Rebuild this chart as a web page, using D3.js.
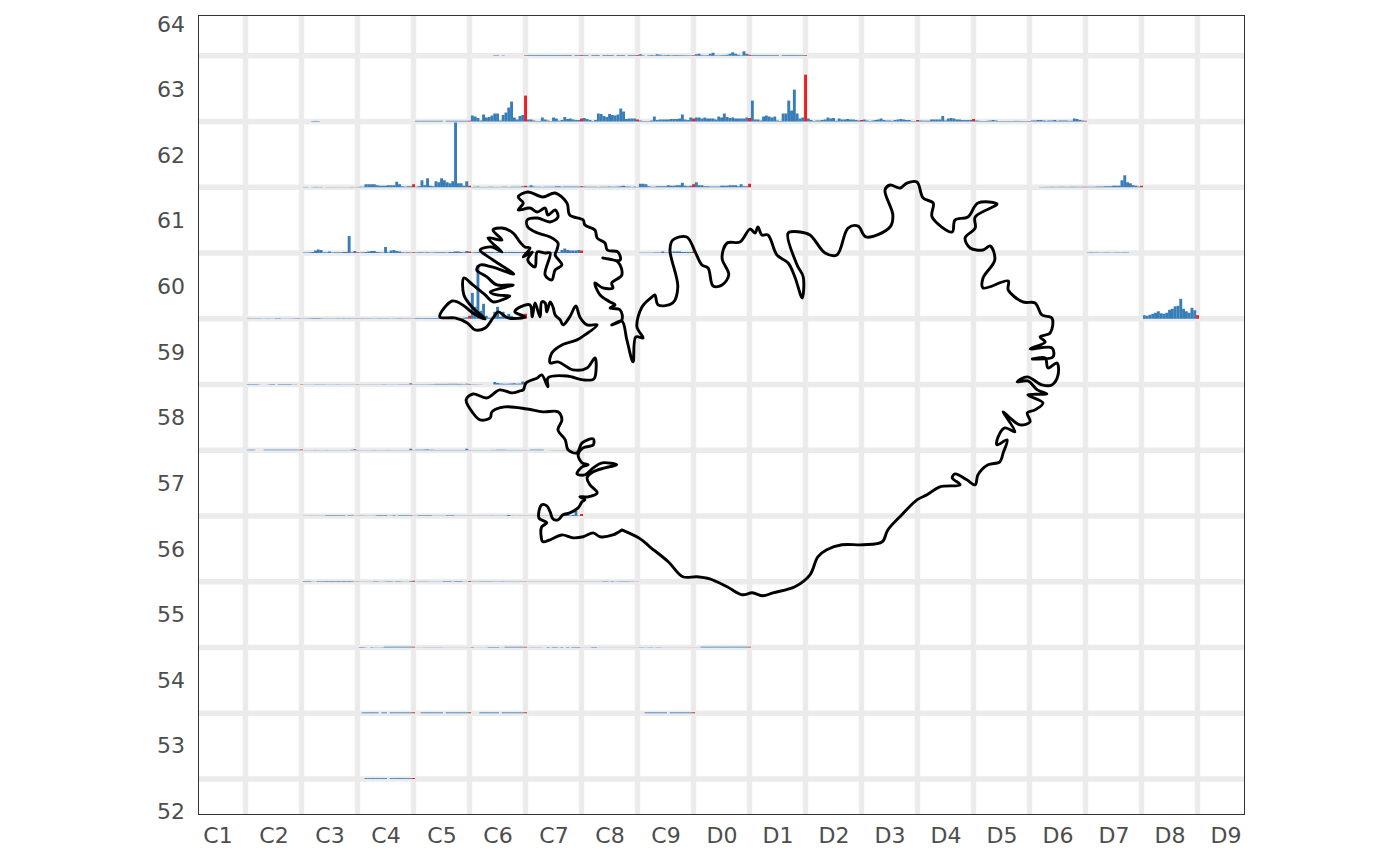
<!DOCTYPE html>
<html><head><meta charset="utf-8">
<script src="https://cdn.jsdelivr.net/npm/d3@7"></script>
<style>html,body{margin:0;padding:0;background:#fff}svg{display:block}text{font-family:"DejaVu Sans",sans-serif}</style>
</head><body><div id="c"></div><script>
const colLabels=["C1","C2","C3","C4","C5","C6","C7","C8","C9","D0","D1","D2","D3","D4","D5","D6","D7","D8","D9"];
const rowLabels=[52,53,54,55,56,57,58,59,60,61,62,63,64];
const periods=d3.range(20);
const row64=[
["C6",[0,0,0,0,0,0,0,0,.5,.5,0,.4,0,0,0,0,0,0,0,.5]],
["C7",[.7,.7,.7,.7,.7,.7,.7,.7,.7,.7,.7,.7,.7,.7,.7,.7,0,.7,.7,.8]],
["C8",[.7,.7,0,.7,.7,.7,0,.7,.7,.7,.7,0,.7,.7,.7,0,.7,.7,.7,.8]],
["C9",[1.5,.5,0,.5,.7,.5,1.5,1,.5,.6,.8,.5,.7,.7,.6,.6,.5,.5,.5,.6]],
["D0",[1.5,2,.6,.5,.6,2,3,.5,.5,.6,.7,1,2,3.5,2,1,.5,4.5,2,1]],
["D1",[.7,.7,.7,.7,.7,.7,.7,.7,.7,.7,0,.7,.7,.7,.7,.7,.7,.7,.7,.7]]];
const row63=[
["C3",[0,0,0,.5,.6,.5,0,0,0,0,0,0,0,0,0,0,0,0,0,0]],
["C5",[.7,.7,.7,.7,.7,.7,.7,.7,.7,.7,0,.7,.7,.7,.7,.7,.7,.7,.7,.8]],
["C6",[6,5,3.5,1,7,4,4.5,6,8,8,1,6.5,9,14,20,4,2,5.5,6.5,26]],
["C7",[2,2,1,.5,.5,4,2,1,.5,4,3,.8,1.5,4.5,2.5,3,2,1.5,1.5,3]],
["C8",[3.5,2.5,1.5,.5,1.5,8,7.5,5.5,4.5,7.5,6.5,6,7,13,10,2.5,3,3,3,2]],
["C9",[1,.5,.5,.5,1,5,1.5,2,2,2,2,2.5,2.5,2.5,3,7,2,1.5,4,3]],
["D0",[4,4,3,4,3,3,3,2,5,4,8,4.5,3.5,4,3,3,3,3,4,3.5]],
["D1",[21,2,2,1,5,6,5,4,5,1,.5,8,8,21,11,32,8,3,4,47]],
["D2",[3,1.5,.5,1,1,1.5,2,4,3,3.5,.7,3,2,2,2.5,2,2,1.5,1,1.5]],
["D3",[2,1,.5,1,1.5,2,3,1.5,1,1,.7,1.5,2,2.5,2,1.5,1.5,.5,.5,1.5]],
["D4",[1,.8,.8,.8,2,2,2,2,5.5,1,3,3.5,3,2,2,1.5,1.5,1.5,1.5,2.5]],
["D5",[1,.7,.5,.5,.7,1,1.5,1,.5,.5,.5,.5,.5,.5,.6,.6,.5,.5,.5,.5]],
["D6",[1,1,1.5,1.5,1,.7,1,1,1.5,.7,1,1,1,.7,.7,3,2.5,1.5,1,.7]]];
const row62=[
["C3",[.3,.3,0,.3,.4,.3,.3,0,.2,.2,.2,.2,.2,.2,.2,.2,.2,.3,.2,.3]],
["C4",[.5,.5,3,3,3,3,2,1.5,1.5,1.5,2,2,2,5.5,3,1,.5,1,1,3]],
["C5",[.5,1,7,2,9,1.5,1,6,5,9,7,5,4,6,65,4,4,1.5,6,1.5]],
["C6",[.3,.5,.7,.3,.3,.3,.5,.5,.3,.3,.3,.5,.5,.3,.5,.5,.5,.5,1,1.5]],
["C7",[.7,2,.7,.5,.5,.3,.5,.5,.5,.5,1,1,.5,.7,.7,.7,.7,.7,.7,1]],
["C8",[.7,.5,.5,.5,.5,.3,.5,.5,.5,.7,.5,.5,.7,1,1.5,.7,.7,.3,.7,.3]],
["C9",[3.5,3.5,3,1,.5,.5,1,1,1,1,2,1.5,1.5,2,2,4.5,1.5,1,1.5,3]],
["D0",[5,2,2,1,1,.7,.7,.7,.7,1.5,1.5,1.5,2,2,2,1,3,1,1,3.5]],
["D6",[0,0,0,.3,.3,.4,.4,.5,.4,.4,.5,.5,.4,.4,.5,.5,.5,.4,.5,.5]],
["D7",[.5,.5,.5,.7,.7,.7,1,1,1,1.5,1.5,1.5,7,12,5,4,2,1.5,.7,1.5]]];
const row61=[
["C3",[.5,.5,.7,1,2.5,3.5,3,.7,.7,1.5,.5,.7,.7,.7,1,1,17,.7,2,.7]],
["C4",[.5,.7,1,1.5,2,2,1,.7,.5,6,.7,2.5,3,2,1.5,.7,.5,.7,.5,.7]],
["C5",[.5,.7,.7,.5,.7,.5,.5,.7,.7,.7,.7,.5,1,1,1.5,1.5,1,.7,2,1.5]],
["C6",[.5,.7,1,1,1,1,1,1,.7,1,.7,1,1,1,1,1,1,1,1,1]],
["C7",[1,1,1,.7,.7,.7,.7,.7,.7,.7,.7,1,3,4.5,3,2.5,2.5,2.5,3,2.5]],
["C9",[.3,.3,.3,.3,.3,.5,.5,.5,1.5,.5,.5,.7,1.5,1.5,1.5,1,1,1,1,1.5]],
["D7",[.4,.5,.4,.4,.3,.3,.4,.4,.3,.3,.4,.4,.4,.5,.4,0,0,0,0,0]]];
const row60=[
["C2",[.3,.3,.3,.3,.3,.2,.2,.3,.2,.2,.5,.5,.2,.2,.2,.2,.3,.4,.5,.2]],
["C3",[.3,.3,.4,.6,.6,.6,.4,.3,.3,.3,.3,.3,.4,.3,.4,.3,.4,.3,.3,.3]],
["C4",[.3,.4,.3,.3,.3,.2,.3,.4,.3,.3,.3,.2,.3,.3,.4,.3,.3,.3,.3,.3]],
["C5",[.6,.6,.6,.6,.6,.6,.6,.7,.7,.3,.4,.4,.4,.6,.6,.3,.5,1,1.5,3]],
["C6",[26,12,54,8,15,3,1,1,7,12,2,7,2,5,3,1.5,1.5,2,2,5]],
["D8",[3.5,3,4,5,6,7.5,5.5,5,6,9,10,12.5,13,20,10,7.5,6,11,8.5,3.5]]];
const row59=[
["C2",[.5,.5,.5,.5,.2,0,0,.2,.5,.5,0,.5,.5,.5,.5,.5,.2,.2,0,.4]],
["C3",[.2,.2,.2,.2,.3,.3,.3,.3,.2,.2,.2,.2,.3,.2,.2,.2,.2,.2,.2,.3]],
["C4",[.2,.2,.2,.2,.2,.2,.2,.2,.3,.3,.2,.2,.2,.2,.3,.3,.3,.3,1.2,.3]],
["C5",[.3,.3,.3,.3,.3,.4,.4,.6,.6,.6,.6,.6,.7,.7,.7,.6,.6,.4,.8,.6]],
["C6",[.3,.3,.2,.2,0,0,0,0,2.5,1.5,1,.8,.7,.8,1,1.3,.8,1,3,2.5]]];
const row58=[
["C2",[.5,.6,.5,0,0,0,.6,.6,.6,.6,.6,.6,.6,.6,.6,.6,.6,.6,.6,.8]],
["C3",[.2,.2,.2,.2,.3,.2,.2,.2,.3,.2,.2,.2,.2,.2,.2,.2,.2,.5,1,.3]],
["C4",[.2,.2,.2,.2,.2,.3,.2,.2,.2,.2,.3,.2,.2,.2,.2,.2,.2,.2,1.5,.2]],
["C5",[.5,.5,.5,.7,.8,.5,.5,.3,.3,.3,.3,.3,.3,.3,.3,.3,.3,.3,1.5,.3]],
["C6",[.2,.2,.2,.2,.2,.2,.2,.3,.3,.5,.5,.5,.4,.3,.3,.3,.3,.3,.3,.3]],
["C7",[.2,.6,.6,.6,.6,.6,0,0,.2,.2,.2,.2,.2,.2,.2,.2,.3,.3,.3,.2]]];
const row57=[
["C3",[.2,.2,.2,.2,.2,.2,.2,.2,.6,.6,.6,.6,.6,.6,.6,.2,.6,.6,.2,.2]],
["C4",[.3,.3,.2,.2,.2,.2,.6,.7,.6,.7,.2,.3,.6,.2,.6,.6,.6,.6,.6,.2]],
["C5",[.2,.6,.6,.6,.6,.6,.2,.2,.2,.2,.2,.6,.6,.6,.2,.2,.2,.2,.2,.2]],
["C6",[.2,.2,.2,.2,.2,.2,.2,.3,.2,.2,.2,.2,.3,1,.3,.2,.2,.2,.2,.2]],
["C7",[.2,.2,.2,.3,.3,.2,.2,.2,.3,.2,.3,.2,.5,1.5,1.2,.5,1,5,.4,2]]];
const row56=[
["C3",[.6,.6,.6,.2,.2,.6,.6,.6,.7,.6,.7,.6,.7,.6,.7,.6,.7,.6,.3,.3]],
["C4",[.2,.2,.2,.2,.2,.5,.5,.2,.2,.3,.5,.5,.2,.5,.5,.3,.2,.2,.7,1]],
["C5",[.2,.3,.3,.3,.3,.2,.2,.2,.2,.2,.6,.6,.6,.2,.6,.6,.6,.2,.2,.8]],
["C6",[.3,.3,.3,.4,.4,.4,.4,.3,.3,.3,.3,.4,.3,.3,.3,.3,.3,.3,.3,.3]],
["C7",[.2,.2,.2,.2,.2,.2,.2,.2,.2,.2,.2,.2,.2,.2,.2,.2,.2,.2,.2,.2]],
["C8",[.2,.2,.2,.2,.2,.2,.2,.5,.5,.2,.5,.2,.3,.4,.4,.4,.4,.3,.2,.2]]];
const row55=[
["C4",[.5,.5,.2,0,.4,.2,.2,.2,.3,.8,.8,.8,.8,.8,.8,.8,.8,.8,.8,.8]],
["C5",[.1,.1,.1,.2,.2,.2,.2,.2,.2,.2,.1,.1,.1,.1,.1,.1,.1,.1,.1,.1]],
["C6",[.5,.1,.1,.1,.1,.1,.5,.5,.5,.5,.1,.1,.7,.7,.7,.7,.7,.7,.7,.7]],
["C7",[.1,.2,.2,.2,.2,.1,0,.5,.1,.5,.5,.1,.5,0,.5,.1,.5,.5,.5,.1]],
["C8",[.1,.1,.1,.5,.5,.1,.1,.1,.1,.1,.1,.1,.1,.1,.1,.1,.1,.1,.1,.1]],
["C9",[.3,.3,.1,.3,.3,.1,.3,.3,.1,.1,.1,.1,.1,.1,.1,.1,.1,.1,.1,.1]],
["D0",[.1,.1,.8,.8,.8,.8,.8,.8,.8,.8,.8,.8,.8,.8,.8,.8,.8,.8,.8,.8]]];
const row54=[
["C4",[0,.85,.85,.85,.85,.85,.85,0,.85,.85,0,.85,.85,.85,.85,.85,.85,.85,.85,1]],
["C5",[0,0,.85,.85,.85,.85,.85,.85,.85,.85,0,.85,.85,.85,.85,.85,.85,.85,.85,1]],
["C6",[0,0,0,.85,.85,.85,.85,.85,.85,.85,0,.85,.85,.85,.85,.85,.85,.85,.85,1]],
["C9",[0,0,.85,.85,.85,.85,.85,.85,.85,.85,0,.85,.85,.85,.85,.85,.85,.85,.85,1]]];
const row53=[
["C4",[0,0,.85,.85,.85,.85,.85,.85,.85,.85,0,.85,.85,.85,.85,.85,.85,.85,.85,1]]];
const rowCells=[[64,row64],[63,row63],[62,row62],[61,row61],[60,row60],[59,row59],[58,row58],[57,row57],[56,row56],[55,row55],[54,row54],[53,row53]];
const coast=[[-21.28,63.894],[-21.44,63.856],[-21.67,63.842],[-21.79,63.872],[-21.97,63.842],[-22.15,63.834],[-22.35,63.856],[-22.56,63.819],[-22.69,63.804],[-22.72,63.842],[-22.71,63.918],[-22.62,63.948],[-22.76,63.986],[-22.71,64.085],[-22.62,64.077],[-22.56,64.032],[-22.51,63.978],[-22.42,63.971],[-22.33,64.009],[-22.21,64.024],[-22.06,64.062],[-21.99,64.108],[-21.94,64.123],[-22.03,64.146],[-21.88,64.146],[-21.72,64.176],[-21.85,64.237],[-21.90,64.29],[-21.79,64.336],[-21.58,64.366],[-21.37,64.389],[-21.63,64.404],[-21.79,64.366],[-21.94,64.313],[-22.08,64.32],[-21.99,64.374],[-21.88,64.389],[-21.99,64.404],[-22.06,64.465],[-21.97,64.518],[-21.79,64.541],[-21.79,64.586],[-21.99,64.556],[-22.08,64.48],[-22.24,64.503],[-22.29,64.579],[-22.42,64.655],[-22.35,64.731],[-22.42,64.792],[-22.69,64.792],[-22.97,64.814],[-23.37,64.83],[-23.60,64.792],[-23.63,64.746],[-23.81,64.731],[-23.94,64.784],[-24.06,64.883],[-23.94,64.928],[-23.69,64.898],[-23.46,64.959],[-23.24,64.936],[-23.10,64.951],[-23.04,64.959],[-22.99,65.012],[-22.79,65.05],[-22.71,65.073],[-22.60,64.982],[-22.60,65.05],[-22.26,65.065],[-21.97,65.035],[-21.78,65.042],[-21.74,65.111],[-21.76,65.202],[-21.90,65.126],[-22.15,65.111],[-22.42,65.172],[-22.56,65.164],[-22.53,65.24],[-22.35,65.301],[-22.08,65.339],[-21.94,65.377],[-21.72,65.453],[-21.90,65.453],[-22.03,65.514],[-22.10,65.597],[-22.21,65.514],[-22.33,65.453],[-22.38,65.491],[-22.47,65.529],[-22.51,65.59],[-22.56,65.628],[-22.62,65.552],[-22.65,65.62],[-22.71,65.628],[-22.74,65.514],[-22.83,65.62],[-22.88,65.514],[-22.92,65.605],[-23.13,65.582],[-23.19,65.552],[-23.01,65.514],[-23.31,65.506],[-23.49,65.552],[-23.58,65.506],[-23.72,65.43],[-23.90,65.415],[-24.04,65.468],[-24.26,65.506],[-24.53,65.514],[-24.31,65.635],[-24.12,65.605],[-23.94,65.544],[-23.72,65.498],[-23.94,65.582],[-24.10,65.681],[-24.10,65.81],[-23.94,65.757],[-23.72,65.681],[-23.58,65.628],[-23.42,65.643],[-23.28,65.673],[-23.51,65.681],[-23.63,65.704],[-23.22,65.757],[-23.51,65.757],[-23.69,65.818],[-23.87,65.871],[-23.81,65.909],[-23.60,65.894],[-23.21,65.84],[-23.58,65.947],[-23.81,66.023],[-23.60,66.046],[-23.42,66.008],[-23.67,66.114],[-23.42,66.099],[-23.58,66.175],[-23.42,66.19],[-23.22,66.152],[-23.10,66.084],[-23.01,66.046],[-22.92,66.038],[-23.04,65.97],[-22.88,66.008],[-22.96,65.947],[-22.83,65.894],[-22.79,66.008],[-22.65,66.0],[-22.56,66.0],[-22.65,65.833],[-22.53,65.795],[-22.47,65.871],[-22.35,65.909],[-22.47,65.985],[-22.44,66.023],[-22.42,66.076],[-22.56,66.122],[-22.78,66.152],[-22.96,66.198],[-22.97,66.251],[-22.79,66.266],[-22.56,66.236],[-22.42,66.274],[-22.47,66.327],[-22.60,66.289],[-22.65,66.342],[-22.79,66.312],[-22.92,66.342],[-23.13,66.327],[-23.04,66.38],[-23.13,66.426],[-22.96,66.464],[-22.69,66.426],[-22.47,66.456],[-22.26,66.38],[-22.21,66.289],[-21.97,66.251],[-21.94,66.213],[-21.76,66.175],[-21.72,66.114],[-21.58,66.076],[-21.54,66.023],[-21.35,66.008],[-21.31,65.947],[-21.62,65.962],[-21.35,65.932],[-21.28,65.833],[-21.46,65.772],[-21.44,65.734],[-21.62,65.734],[-21.76,65.772],[-21.67,65.681],[-21.49,65.628],[-21.40,65.605],[-21.49,65.582],[-21.31,65.567],[-21.28,65.491],[-21.46,65.453],[-21.28,65.483],[-21.19,65.339],[-21.08,65.172],[-21.03,65.362],[-20.90,65.354],[-21.01,65.438],[-20.92,65.59],[-20.74,65.666],[-20.69,65.681],[-20.63,65.605],[-20.37,65.62],[-20.28,65.742],[-20.42,66.023],[-20.37,66.099],[-20.12,66.122],[-19.97,66.008],[-19.85,65.909],[-19.74,65.886],[-19.65,65.749],[-19.49,65.757],[-19.37,65.833],[-19.49,65.962],[-19.40,66.076],[-19.17,66.084],[-18.99,66.182],[-18.90,66.152],[-18.85,66.198],[-18.78,66.137],[-18.67,66.137],[-18.51,65.985],[-18.31,65.924],[-18.19,65.818],[-18.06,65.658],[-18.04,65.818],[-18.15,65.909],[-18.31,66.152],[-18.10,66.16],[-17.92,66.137],[-17.65,66.0],[-17.44,65.985],[-17.24,66.19],[-17.06,66.205],[-16.92,66.122],[-16.49,66.198],[-16.44,66.289],[-16.58,66.479],[-16.49,66.517],[-16.31,66.494],[-16.19,66.532],[-16.01,66.54],[-15.90,66.418],[-15.72,66.38],[-15.74,66.274],[-15.38,66.16],[-15.33,66.251],[-15.10,66.274],[-14.92,66.38],[-14.58,66.372],[-14.97,66.274],[-14.97,66.19],[-15.15,66.114],[-15.06,66.038],[-14.83,66.023],[-14.70,66.053],[-14.62,65.947],[-14.83,65.81],[-14.83,65.734],[-14.38,65.787],[-14.38,65.719],[-14.12,65.628],[-13.90,65.62],[-13.78,65.529],[-13.60,65.506],[-13.63,65.392],[-13.81,65.362],[-13.72,65.324],[-13.99,65.27],[-13.60,65.278],[-13.58,65.21],[-13.95,65.194],[-13.72,65.202],[-13.67,65.126],[-13.51,65.164],[-13.49,65.073],[-13.60,64.997],[-13.78,64.997],[-14.04,65.058],[-14.22,65.02],[-14.03,65.027],[-13.86,64.959],[-13.69,64.928],[-14.03,64.921],[-13.76,64.86],[-13.90,64.807],[-14.04,64.784],[-13.99,64.716],[-14.17,64.693],[-14.35,64.746],[-14.47,64.792],[-14.26,64.64],[-14.44,64.67],[-14.56,64.602],[-14.58,64.541],[-14.40,64.579],[-14.47,64.48],[-14.53,64.412],[-14.74,64.389],[-14.92,64.313],[-14.97,64.237],[-15.12,64.275],[-15.33,64.32],[-15.38,64.29],[-15.24,64.237],[-15.60,64.222],[-15.83,64.161],[-16.01,64.123],[-16.28,64.009],[-16.53,63.894],[-16.63,63.804],[-16.97,63.781],[-17.35,63.781],[-17.62,63.743],[-17.78,63.69],[-17.92,63.553],[-18.19,63.462],[-18.58,63.416],[-18.76,63.393],[-18.95,63.416],[-19.13,63.401],[-19.40,63.462],[-19.71,63.522],[-19.94,63.538],[-20.19,63.538],[-20.45,63.652],[-20.78,63.766],[-20.95,63.826],[-21.28,63.894]];

const W=1400,H=865,panel={l:198,r:1244,t:15,b:814};
const svg=d3.select("#c").append("svg").attr("width",W).attr("height",H);
const xLon=d3.scaleLinear().domain([-20,-19]).range([693.5,749.5]);
const yLat=d3.scaleLinear().domain([63,66]).range([647.5,253]);
const colCentre=c=>-28.5+colLabels.indexOf(c);
const rowLat=r=>35.75+r/2;
const catchH=d3.scaleLinear().domain([0,66]).range([0,65.75]);

svg.append("rect").attr("x",panel.l).attr("y",panel.t).attr("width",panel.r-panel.l).attr("height",panel.b-panel.t).attr("fill","#fff");
const grid=svg.append("g").attr("stroke","#ebebeb").attr("stroke-width",5.4);
grid.selectAll("line.v").data(colLabels.slice(0,-1)).join("line").attr("class","v")
 .attr("x1",c=>xLon(colCentre(c)+.5)).attr("x2",c=>xLon(colCentre(c)+.5)).attr("y1",panel.t).attr("y2",panel.b);
grid.selectAll("line.h").data(rowLabels.slice(0,-1)).join("line").attr("class","h")
 .attr("y1",r=>yLat(rowLat(r+.5))).attr("y2",r=>yLat(rowLat(r+.5))).attr("x1",panel.l).attr("x2",panel.r);

const bars=svg.append("g");
rowCells.forEach(([row,cells])=>{
  const base=yLat(rowLat(row-.5));
  cells.forEach(([col,vals])=>{
    const left=xLon(colCentre(col)-.5),step=(xLon(1)-xLon(0))/periods.length;
    const xb=d3.scaleBand().domain(periods).range([left+step/2,left+step/2+step*periods.length]);
    bars.selectAll(null).data(vals.map((v,i)=>({v,i}))).join("rect")
      .attr("x",d=>xb(d.i)).attr("width",xb.bandwidth()+.1)
      .attr("y",d=>base-catchH(d.v)).attr("height",d=>catchH(d.v))
      .attr("fill",d=>d.i===periods.length-1?"#ee1c25":"#377eb8");
  });
});

svg.append("path").datum(coast)
 .attr("d",d3.line().curve(d3.curveCatmullRom.alpha(.5)).x(d=>xLon(d[0])).y(d=>yLat(d[1])))
 .attr("fill","none").attr("stroke","#000").attr("stroke-width",2.9).attr("stroke-linejoin","round").attr("stroke-linecap","round");

svg.append("rect").attr("x",panel.l+.5).attr("y",panel.t+.5).attr("width",panel.r-panel.l).attr("height",panel.b-panel.t).attr("fill","none").attr("stroke","#333").attr("stroke-width",1);

const xAxisScale=d3.scalePoint().domain(colLabels).range([xLon(colCentre("C1")),xLon(colCentre("D9"))]);
const xa=svg.append("g").attr("transform",`translate(0,${panel.b})`).call(d3.axisBottom(xAxisScale).tickSize(0).tickPadding(13));
const yRow=d3.scaleLinear().domain([52,64]).range([yLat(rowLat(52))-.3,yLat(rowLat(64))+1.2]);
const ya=svg.append("g").attr("transform",`translate(${panel.l},0)`).call(d3.axisLeft(yRow).tickValues(rowLabels).tickFormat(d3.format("d")).tickSize(0).tickPadding(13));
[xa,ya].forEach(a=>{a.select(".domain").remove();a.selectAll("text").attr("fill","#4d4d4d").style("font-size","22px").style("font-family",'"DejaVu Sans"');});
</script></body></html>
